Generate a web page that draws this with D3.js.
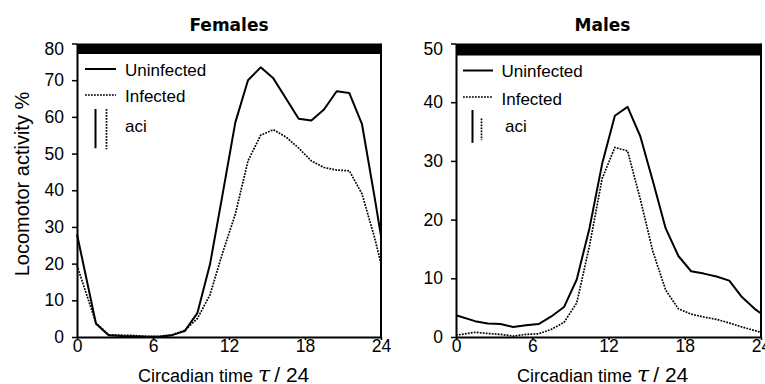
<!DOCTYPE html>
<html>
<head>
<meta charset="utf-8">
<script src="https://cdn.jsdelivr.net/npm/d3@7"></script>
<style>
  body { margin: 0; background: #fff; }
  svg { display: block; }
</style>
</head>
<body>
<div id="main"></div>
<script>
// circadian time of each sample (hours)
const hours = [0, 1.5, 2.5, 3.5, 4.5, 5.5, 6.5, 7.5, 8.5, 9.5, 10.5, 11.5, 12.5,
               13.5, 14.5, 15.5, 16.5, 17.5, 18.5, 19.5, 20.5, 21.5, 22.5, 23.5, 24];

const femalesUninfected = [28, 3.6, 0.5, 0.3, 0.2, 0.1, 0.1, 0.5, 1.6, 6.5, 19.8, 39, 58.5,
                           70, 73.5, 70.5, 65, 59.5, 59, 62, 67, 66.5, 58, 38, 27.5];
const femalesInfected = [19.5, 3.8, 0.6, 0.5, 0.4, 0.2, 0.2, 0.6, 1.8, 5, 11.5, 23, 33.5,
                         48, 55, 56.5, 54.5, 51.5, 48, 46.2, 45.5, 45.3, 39, 27, 20];
const malesUninfected = [3.7, 2.7, 2.3, 2.2, 1.7, 2.0, 2.2, 3.5, 5.1, 9.8, 18.5, 29.5, 37.7,
                         39.2, 34.2, 26.5, 18.5, 13.8, 11.2, 10.8, 10.3, 9.6, 6.8, 4.8, 4.0];
const malesInfected = [0.3, 0.8, 0.6, 0.45, 0.15, 0.45, 0.55, 1.3, 2.5, 5.8, 15.5, 27, 32.3,
                       31.7, 23.5, 14.5, 8, 4.8, 3.9, 3.4, 3.0, 2.4, 1.7, 1.1, 0.8];

// average confidence interval lengths [uninfected, infected]
const aciFemales = [10.7, 11];
const aciMales = [5.6, 3.7];

const xTicks = [0, 6, 12, 18, 24];
const femalesYTicks = [0, 10, 20, 30, 40, 50, 60, 70, 80];
const malesYTicks = [0, 10, 20, 30, 40, 50];

const legendLabels = ["Uninfected", "Infected", "aci"];

const width = 765;
const height = 384;
const sans = "'Liberation Sans', Arial, sans-serif";
const dotted = "1.8,1.2";

const svg = d3.select("#main")
              .append("svg")
              .attr("width", width)
              .attr("height", height);

svg.append("text")
   .attr("transform", "translate(29,184) rotate(-90)")
   .attr("text-anchor", "middle")
   .style("font-family", sans)
   .style("font-size", "20px")
   .text("Locomotor activity %");

function panel(opts) {
  const x = d3.scaleLinear().domain([0, 24]).range([opts.left, opts.right]);
  const y = d3.scaleLinear().domain([0, opts.yMax]).range([337, 43.5]);
  const g = svg.append("g");

  // night bar along the top
  g.append("rect")
   .attr("x", opts.left)
   .attr("y", y(opts.yMax))
   .attr("width", opts.right - opts.left)
   .attr("height", opts.barH)
   .attr("fill", "#000");

  // right border
  g.append("line")
   .attr("x1", opts.right).attr("x2", opts.right)
   .attr("y1", y(opts.yMax)).attr("y2", y(0))
   .attr("stroke", "#000")
   .attr("stroke-width", 2);

  const xAxis = g.append("g")
                 .attr("transform", `translate(0,${y(0)})`)
                 .call(d3.axisBottom(x).tickValues(xTicks).tickSize(3).tickPadding(0).tickSizeOuter(0));

  const yAxis = g.append("g")
                 .attr("transform", `translate(${opts.left},0)`)
                 .call(d3.axisLeft(y).tickValues(opts.yTicks).tickSize(5).tickPadding(8).tickSizeOuter(0));

  [xAxis, yAxis].forEach(a => {
    a.select(".domain").attr("stroke-width", 2);
    a.selectAll(".tick line").attr("stroke-width", 1.5);
    a.selectAll("text")
     .style("font-family", sans)
     .style("font-size", "17.5px")
     .attr("fill", "#000");
  });
  yAxis.selectAll(".tick")
       .filter(d => d === opts.yMax)
       .select("text")
       .attr("dy", "0.62em");

  const line = d3.line()
                 .x((d, i) => x(hours[i]))
                 .y(d => y(d));

  g.append("path")
   .datum(opts.uninfected)
   .attr("d", line)
   .attr("fill", "none")
   .attr("stroke", "#000")
   .attr("stroke-width", 2)
   .attr("stroke-linejoin", "round");

  g.append("path")
   .datum(opts.infected)
   .attr("d", line)
   .attr("fill", "none")
   .attr("stroke", "#000")
   .attr("stroke-width", 1.7)
   .attr("stroke-dasharray", dotted);

  // title
  g.append("text")
   .attr("x", (opts.left + opts.right) / 2 + opts.titleShift)
   .attr("y", 30.5)
   .attr("text-anchor", "middle")
   .style("font-family", "'DejaVu Sans', sans-serif")
   .style("font-weight", "bold")
   .style("font-size", "17px")
   .text(opts.title);

  // x axis title
  const xt = g.append("text")
              .attr("x", opts.left + 61)
              .attr("y", 381.5)
              .style("font-family", sans)
              .style("font-size", "18px");
  xt.append("tspan").text("Circadian time ");
  xt.append("tspan")
    .style("font-family", "'DejaVu Serif', serif")
    .style("font-style", "italic")
    .style("font-size", "22px")
    .text("τ");
  xt.append("tspan")
    .style("font-size", "21px")
    .attr("dx", 4)
    .text("/ 24");

  // legend
  const lg = opts.legend;
  const styles = [
    { w: 2, dash: null },
    { w: 1.7, dash: dotted }
  ];
  styles.forEach((s, i) => {
    g.append("line")
     .attr("x1", lg.x0).attr("x2", lg.x1)
     .attr("y1", lg.rows[i]).attr("y2", lg.rows[i])
     .attr("stroke", "#000")
     .attr("stroke-width", s.w)
     .attr("stroke-dasharray", s.dash);
  });
  opts.aci.forEach((len, i) => {
    const top = lg.aciTop[i];
    g.append("line")
     .attr("x1", lg.aciX[i]).attr("x2", lg.aciX[i])
     .attr("y1", top)
     .attr("y2", top + (y(0) - y(len)))
     .attr("stroke", "#000")
     .attr("stroke-width", styles[i].w)
     .attr("stroke-dasharray", styles[i].dash);
  });
  legendLabels.forEach((t, i) => {
    g.append("text")
     .attr("x", lg.tx[i])
     .attr("y", lg.ty[i])
     .style("font-family", sans)
     .style("font-size", "17px")
     .text(t);
  });
}

panel({
  title: "Females", titleShift: 0,
  left: 77, right: 381, yMax: 80, yTicks: femalesYTicks, barH: 10.5,
  uninfected: femalesUninfected, infected: femalesInfected, aci: aciFemales,
  legend: {
    x0: 85, x1: 116, rows: [69, 95],
    aciX: [95.5, 106.5], aciTop: [109, 109],
    tx: [125, 125, 125], ty: [75.5, 101.5, 131.5]
  }
});

panel({
  title: "Males", titleShift: -6,
  left: 456, right: 761, yMax: 50, yTicks: malesYTicks, barH: 12,
  uninfected: malesUninfected, infected: malesInfected, aci: aciMales,
  legend: {
    x0: 463, x1: 493, rows: [70.5, 97],
    aciX: [472.5, 481.5], aciTop: [110, 118.5],
    tx: [501.5, 501.5, 505], ty: [77, 104.5, 131.5]
  }
});
</script>
</body>
</html>
